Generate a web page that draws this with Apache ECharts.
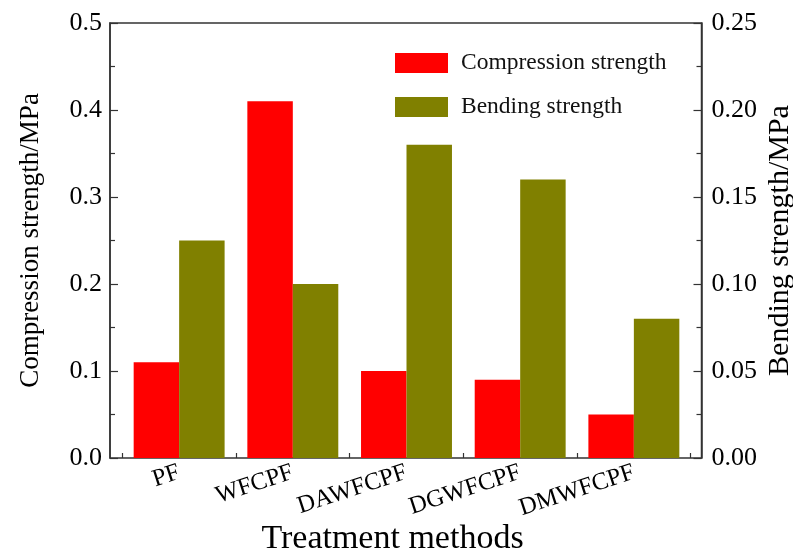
<!DOCTYPE html>
<html>
<head>
<meta charset="utf-8">
<script src="https://cdn.jsdelivr.net/npm/echarts@6/dist/echarts.min.js"></script>
<style>
html,body{margin:0;padding:0;background:#fff;}
#chart{width:793px;height:554px;}
</style>
</head>
<body>
<div id="chart"></div>
<script>
var categories = ['PF', 'WFCPF', 'DAWFCPF', 'DGWFCPF', 'DMWFCPF'];
var compressionStrength = [0.11, 0.41, 0.10, 0.09, 0.05];
var bendingStrength = [0.125, 0.10, 0.18, 0.16, 0.08];
var seriesNames = ['Compression strength', 'Bending strength'];
var xTitle = 'Treatment methods';
var leftTitle = 'Compression strength/MPa';
var rightTitle = 'Bending strength/MPa';

var FONT = '"Liberation Serif", "Times New Roman", serif';
var AX = '#333333';

var chart = echarts.init(document.getElementById('chart'), null, {renderer: 'canvas'});
var option = {
  animation: false,
  backgroundColor: '#ffffff',
  textStyle: {fontFamily: FONT, color: '#000'},
  legend: {
    orient: 'vertical',
    left: 395, top: 51,
    padding: 0,
    itemWidth: 53, itemHeight: 20, itemGap: 20,
    icon: 'rect',
    textStyle: {fontFamily: FONT, fontSize: 23.5, color: '#111', lineHeight: 20, padding: [0, 0, 0, 8]},
    data: seriesNames
  },
  grid: [
    {left: 110, right: 91.5, top: 23, bottom: 96, show: true, borderColor: AX, borderWidth: 1.5, backgroundColor: 'transparent', containLabel: false, outerBoundsMode: 'none'},
    {left: 122.3, right: 102.3, top: 23, bottom: 96, containLabel: false, outerBoundsMode: 'none'}
  ],
  xAxis: [
    {gridIndex: 0, type: 'value', show: false, min: 0, max: 1},
    {
      gridIndex: 1, type: 'category', data: categories,
      axisLine: {show: false},
      axisTick: {show: true, inside: true, length: 5, lineStyle: {color: AX, width: 1.2}},
      axisLabel: {rotate: 18, fontSize: 24.5, fontFamily: FONT, color: '#000', margin: 14},
      name: xTitle, nameLocation: 'middle', nameGap: 64, nameMoveOverlap: false,
      nameTextStyle: {fontSize: 34, fontFamily: FONT, color: '#000', padding: [0, 28, 0, 0]}
    }
  ],
  yAxis: [
    {
      gridIndex: 0, type: 'value', position: 'left', min: 0, max: 0.5, interval: 0.1,
      axisLine: {show: true, lineStyle: {color: AX, width: 1.5}},
      axisTick: {show: true, inside: true, length: 8, lineStyle: {color: AX, width: 1.2}},
      minorTick: {show: true, splitNumber: 2, length: 5, lineStyle: {color: AX, width: 1.2}},
      splitLine: {show: false},
      axisLabel: {fontSize: 26, fontFamily: FONT, color: '#000', margin: 8, formatter: function (v) { return v.toFixed(1); }},
      name: leftTitle, nameLocation: 'middle', nameGap: 66, nameMoveOverlap: false,
      nameTextStyle: {fontSize: 27, fontFamily: FONT, color: '#000'}
    },
    {
      gridIndex: 0, type: 'value', position: 'right', min: 0, max: 0.25, interval: 0.05,
      axisLine: {show: true, lineStyle: {color: AX, width: 1.5}},
      axisTick: {show: true, inside: true, length: 8, lineStyle: {color: AX, width: 1.2}},
      minorTick: {show: true, splitNumber: 2, length: 5, lineStyle: {color: AX, width: 1.2}},
      splitLine: {show: false},
      axisLabel: {fontSize: 26, fontFamily: FONT, color: '#000', margin: 10, formatter: function (v) { return v.toFixed(2); }},
      name: rightTitle, nameLocation: 'middle', nameGap: 64, nameMoveOverlap: false,
      nameTextStyle: {fontSize: 30, fontFamily: FONT, color: '#000'}
    },
    {gridIndex: 1, type: 'value', min: 0, max: 0.5, show: false, splitLine: {show: false}},
    {gridIndex: 1, type: 'value', min: 0, max: 0.25, show: false, splitLine: {show: false}}
  ],
  series: [
    {
      name: seriesNames[0], type: 'bar', xAxisIndex: 1, yAxisIndex: 2,
      data: compressionStrength, barGap: '0%', barCategoryGap: '20%',
      itemStyle: {color: '#ff0000'}
    },
    {
      name: seriesNames[1], type: 'bar', xAxisIndex: 1, yAxisIndex: 3,
      data: bendingStrength, barGap: '0%', barCategoryGap: '20%',
      itemStyle: {color: '#808000'}
    }
  ]
};
chart.setOption(option);
</script>
</body>
</html>
